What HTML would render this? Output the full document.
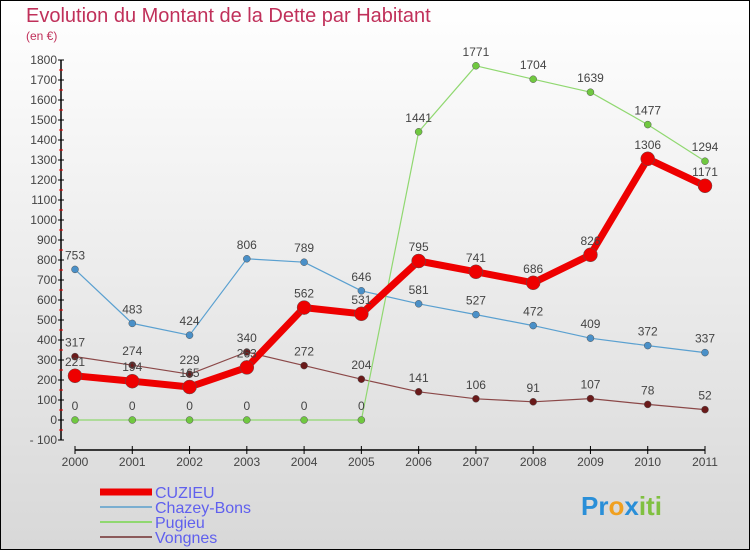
<!DOCTYPE html>
<html><head><meta charset="utf-8"><style>
body{margin:0;width:750px;height:550px;overflow:hidden;font-family:"Liberation Sans",sans-serif}
#c{position:absolute;left:0;top:0;width:748px;height:548px;border:1px solid #000;background:linear-gradient(#fff,#d8d8d8)}
</style></head><body>
<div id="c">
<svg id="s" width="748" height="548" xmlns="http://www.w3.org/2000/svg">
<text x="25" y="21" font-size="20" fill="#c0305a">Evolution du Montant de la Dette par Habitant</text>
<text x="25" y="39" font-size="12" fill="#c0305a">(en €)</text>
<g id="g"></g>
<text x="580" y="514" font-size="26" font-weight="bold"><tspan fill="#2a8fd8">Pr</tspan><tspan fill="#f0a020">o</tspan><tspan fill="#2a8fd8">x</tspan><tspan fill="#80c040">iti</tspan></text>
</svg></div>
<script>
const years=["2000","2001","2002","2003","2004","2005","2006","2007","2008","2009","2010","2011"];
const cuzieu=[221,194,165,263,562,531,795,741,686,826,1306,1171];
const chazey=[753,483,424,806,789,646,581,527,472,409,372,337];
const pugieu=[0,0,0,0,0,0,1441,1771,1704,1639,1477,1294];
const vongnes=[317,274,229,340,272,204,141,106,91,107,78,52];
const yTicks=[-100,0,100,200,300,400,500,600,700,800,900,1000,1100,1200,1300,1400,1500,1600,1700,1800];
const NS="http://www.w3.org/2000/svg";
const g=document.getElementById('g');
const X=i=>74+i*(630/11), Y=v=>419-v*0.2;
function mk(t,a,p){const e=document.createElementNS(NS,t);for(const k in a)e.setAttribute(k,a[k]);(p||g).appendChild(e);return e;}
let ax=mk('line',{x1:60,y1:Y(1800),x2:60,y2:Y(-100),stroke:'#000','stroke-width':1.5});


let bx=mk('line',{x1:74,y1:449,x2:704,y2:449,stroke:'#000','stroke-width':1.5});


yTicks.forEach(v=>{mk('line',{x1:57,y1:Y(v),x2:63,y2:Y(v),stroke:'#000'});
 if(v<1800) mk('line',{x1:58,y1:Y(v+50),x2:62,y2:Y(v+50),stroke:'#e00'});
 const t=mk('text',{x:56,y:Y(v)+4,'font-size':12,fill:'#444','text-anchor':'end'});t.textContent=v<0?'- '+(-v):v;
 
 });
years.forEach((y,i)=>{mk('line',{x1:X(i),y1:445,x2:X(i),y2:453,stroke:'#000'});
 const t=mk('text',{x:X(i),y:465,'font-size':12,fill:'#444','text-anchor':'middle'});t.textContent=y;
 
 });
function series(d,col,w,r,dot,name){
 const p=mk('polyline',{points:d.map((v,i)=>X(i)+','+Y(v)).join(' '),fill:'none',stroke:col,'stroke-width':w,'stroke-linejoin':'round'});
 
 
 d.forEach((v,i)=>{const c=mk('circle',{cx:X(i),cy:Y(v),r:r,fill:dot,stroke:'#555','stroke-width':0.5});
  
  
  const t=mk('text',{x:X(i),y:Y(v)-10,'font-size':12,fill:'#444','text-anchor':'middle'});t.textContent=v;
  
  });
}
series(vongnes,'#8b4848',1.2,3.5,'#6a1a1a','vongnes');
series(chazey,'#5aa0d0',1.2,3.5,'#4a90c8','chazey-bons');
series(pugieu,'#90d870',1.2,3.5,'#70c840','pugieu');
series(cuzieu,'#ee0000',7,7,'#ee0000','cuzieu');
const leg=[['CUZIEU','#ee0000',7],['Chazey-Bons','#7aaed0',2],['Pugieu','#90d870',2],['Vongnes','#8b5a5a',2]];
leg.forEach((l,i)=>{const yy=491+i*15;
 const ln=mk('line',{x1:99,y1:yy,x2:151,y2:yy,stroke:l[1],'stroke-width':l[2]});
 
 
 const t=mk('text',{x:154,y:yy+6,'font-size':16,fill:'#6060ee'});t.textContent=l[0];
 
 });
</script></body></html>
